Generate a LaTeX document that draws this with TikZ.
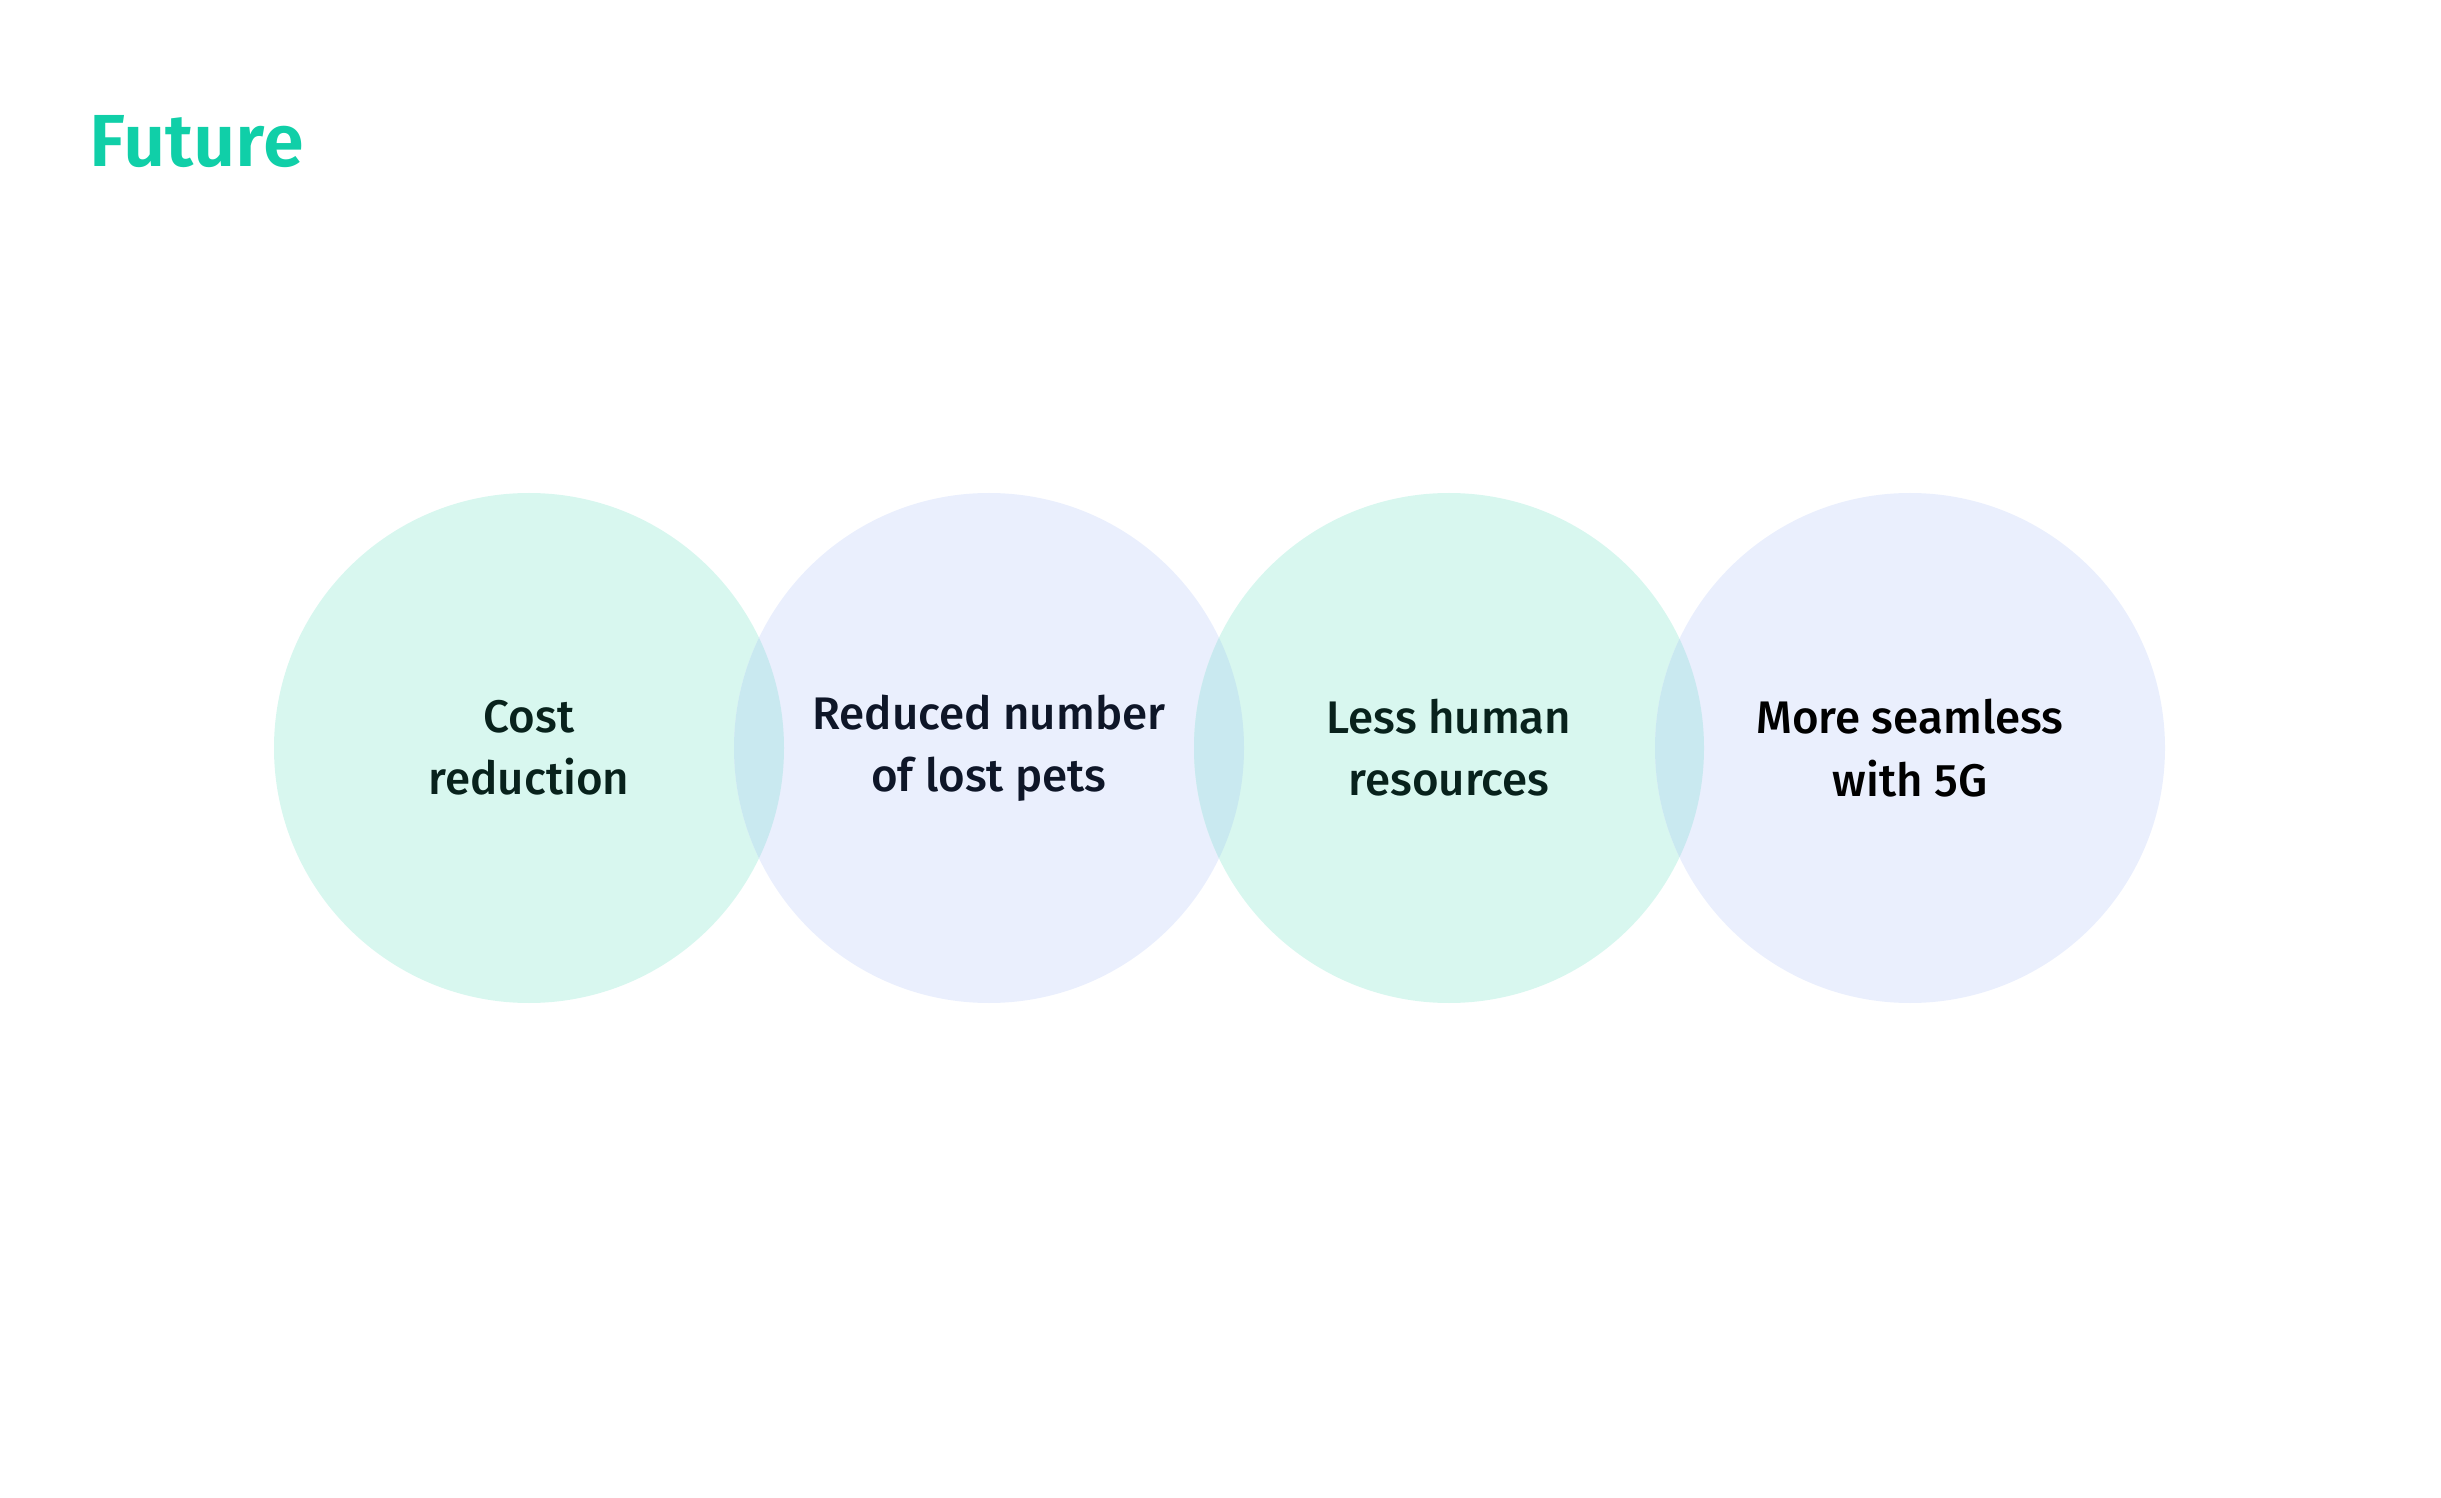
\documentclass[tikz,border=0pt]{standalone}
\usepackage{fontspec}
\setmainfont{Fira Sans}[UprightFont=* Medium, BoldFont=* SemiBold]
\usetikzlibrary{positioning}
\definecolor{futureteal}{RGB}{16,207,168}
\definecolor{mintfill}{RGB}{216,247,239}
\definecolor{lavfill}{RGB}{234,239,253}
\definecolor{lensfill}{RGB}{201,233,240}
\definecolor{inkgreen}{RGB}{8,34,28}
\definecolor{inknavy}{RGB}{14,22,40}

\begin{document}
\begin{tikzpicture}[
  bubble/.style={circle, minimum size=5.1cm, inner sep=0pt, align=center,
    font=\fontsize{13}{17.7}\selectfont},
  mint/.style={bubble, fill=mintfill, text=inkgreen},
  lav/.style={bubble, fill=lavfill, text=inknavy}
]
\useasboundingbox (0,0) rectangle (24.41,14.97);

% title
\node[anchor=base west, inner sep=0pt, text=futureteal, font=\fontsize{21}{25}\bfseries] (title) at (0.89,13.30) {Future};

% Cost reduction
\node[mint] (cost) at (5.29,7.49) {Cost\\reduction};

% Lost pets
\node[lav] (pets) at (9.89,7.49) {Reduced number\\of lost pets};
\begin{scope}
  \clip (cost.center) circle (2.55cm);
  \fill[lensfill] (pets.center) circle (2.55cm);
\end{scope}

% Human resources
\node[mint] (staff) at (14.49,7.49) {Less human\\resources};
\begin{scope}
  \clip (pets.center) circle (2.55cm);
  \fill[lensfill] (staff.center) circle (2.55cm);
\end{scope}

% 5G
\node[lav, text=black] (fiveg) at (19.10,7.49) {More seamless\\with 5G};
\begin{scope}
  \clip (staff.center) circle (2.55cm);
  \fill[lensfill] (fiveg.center) circle (2.55cm);
\end{scope}
\end{tikzpicture}
\end{document}
